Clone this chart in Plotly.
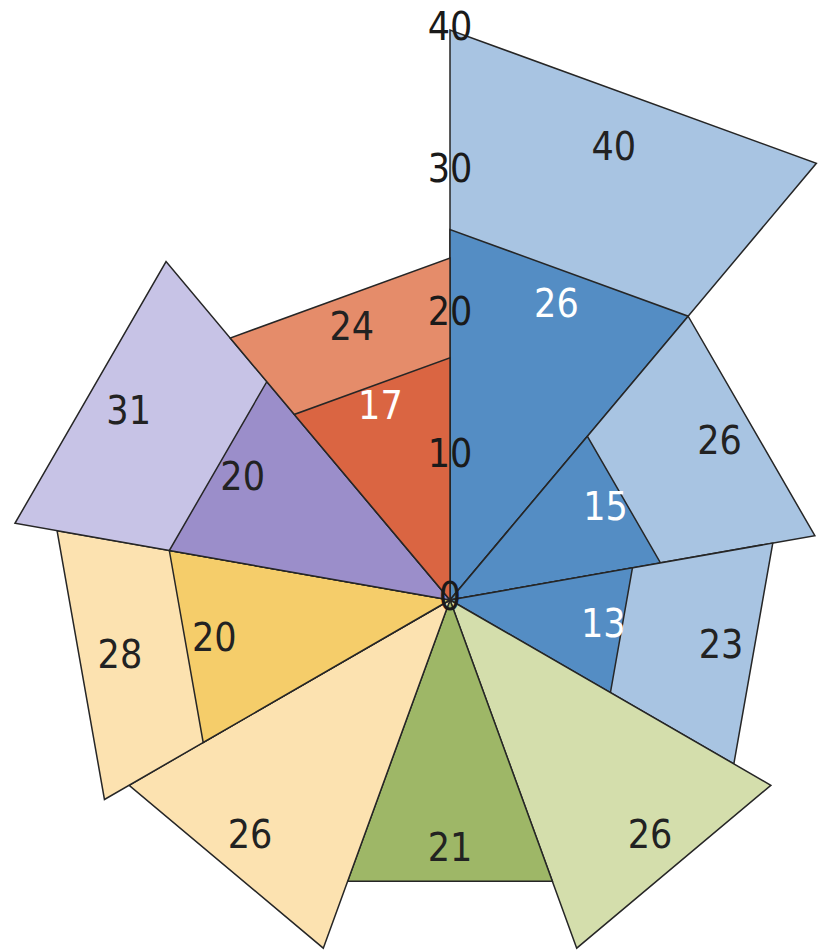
import numpy as np
import plotly.graph_objects as go

# ---- data ----
sectors = ["A", "B", "C", "D", "E", "F", "G", "H", "I"]
inner_values = [26, 15, 13, 26, 21, 26, 20, 20, 17]
outer_values = [40, 26, 23, None, None, None, 28, 31, 24]
inner_colors = ["#548DC4", "#548DC4", "#548DC4", "#D4DEAC", "#9EB767",
                "#FCE2B0", "#F5CD6A", "#9B8ECA", "#DA6542"]
outer_colors = ["#A8C4E2", "#A8C4E2", "#A8C4E2", None, None, None,
                "#FCE2B0", "#C7C3E6", "#E58C6A"]
inner_text_colors = ["white", "white", "white", "#222222", "#222222",
                     "#222222", "#222222", "#222222", "white"]
tick_values = [0, 10, 20, 30, 40]

# ---- layout constants ----
W, H = 821, 952
CX, CY = 450, 600          # pixel centre
K = 14.25                  # pixels per unit
SECTOR_DEG = 360 / len(sectors)
LABEL_FRAC = 0.84
FONT = "Liberation Sans Narrow, DejaVu Sans Condensed, Lato, sans-serif"
EDGE = "#262626"

def wedge(r, a0, a1):
    t0, t1 = np.radians(a0), np.radians(a1)
    xs = [0, r * np.sin(t0), r * np.sin(t1), 0]
    ys = [0, r * np.cos(t0), r * np.cos(t1), 0]
    return xs, ys

fig = go.Figure()

for i, name in enumerate(sectors):
    a0, a1 = i * SECTOR_DEG, (i + 1) * SECTOR_DEG
    if outer_values[i] is not None:
        xs, ys = wedge(outer_values[i], a0, a1)
        fig.add_trace(go.Scatter(x=xs, y=ys, mode="lines", fill="toself",
                                 fillcolor=outer_colors[i],
                                 line=dict(color=EDGE, width=1.5),
                                 hoverinfo="skip", showlegend=False))
    xs, ys = wedge(inner_values[i], a0, a1)
    fig.add_trace(go.Scatter(x=xs, y=ys, mode="lines", fill="toself",
                             fillcolor=inner_colors[i],
                             line=dict(color=EDGE, width=1.5),
                             hoverinfo="skip", showlegend=False))

# value labels
lx, ly, lt, lc = [], [], [], []
for i in range(len(sectors)):
    mid = np.radians((i + 0.5) * SECTOR_DEG)
    for v, c in ((inner_values[i], inner_text_colors[i]),
                 (outer_values[i], "#222222")):
        if v is None:
            continue
        r = v * LABEL_FRAC
        lx.append(r * np.sin(mid)); ly.append(r * np.cos(mid))
        lt.append(str(v)); lc.append(c)

fig.add_trace(go.Scatter(x=lx, y=ly, mode="text", text=lt,
                         textfont=dict(family=FONT, size=39, color=lc),
                         hoverinfo="skip", showlegend=False))

# radial tick labels along the vertical axis
fig.add_trace(go.Scatter(x=[0] * len(tick_values), y=tick_values, mode="text",
                         text=[str(t) for t in tick_values],
                         textfont=dict(family=FONT, size=39, color="#1a1a1a"),
                         hoverinfo="skip", showlegend=False))

fig.update_layout(
    width=W, height=H,
    margin=dict(l=0, r=0, t=0, b=0),
    paper_bgcolor="white", plot_bgcolor="white",
    xaxis=dict(range=[-CX / K, (W - CX) / K], visible=False, fixedrange=True),
    yaxis=dict(range=[-(H - CY) / K, CY / K], visible=False, fixedrange=True),
)

fig.write_html("out.html")
